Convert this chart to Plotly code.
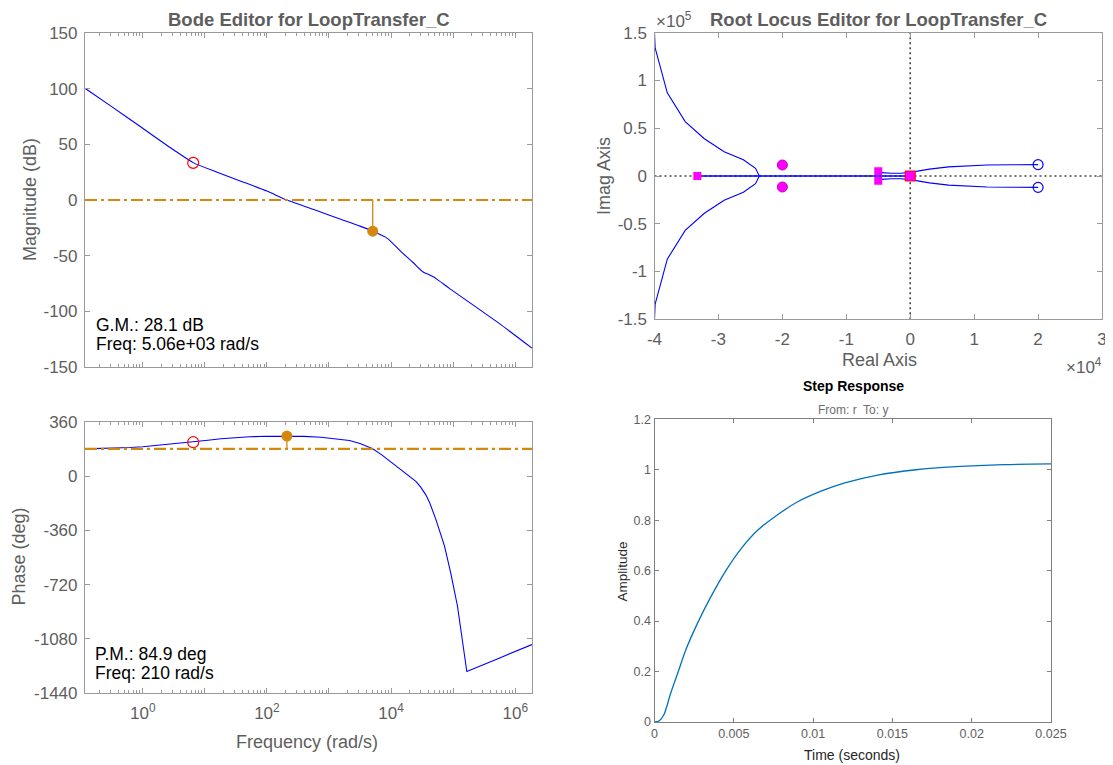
import plotly.graph_objects as go

W, H = 1113, 765
OFF = 8  # page body margin in the browser

# ---------------- data ----------------
# Bode magnitude (rad/s, dB)
mag_freq = [0.1175, 0.316, 1.0, 3.16, 6.6, 15.8, 40, 100, 210, 631, 1585, 3162,
            5060, 8700, 14450, 22400, 32400, 41700, 52500, 87000, 550000, 1.86e6]
mag_db = [100.5, 84, 64.5, 45, 33.4, 25, 16.5, 8, 0, -9.5, -17.5, -23.5,
          -28.1, -34.5, -46.5, -56, -64.5, -67.5, -70.5, -79.5, -111, -133.3]

# Bode phase (rad/s, deg)
ph_freq = [0.1175, 0.316, 0.63, 1.0, 2.14, 4.0, 6.5, 11.2, 18.2, 31.6, 52.5, 100,
           210, 400, 740, 1020, 1585, 2140, 3160, 5060, 7080, 9330, 14100, 19500,
           25100, 30200, 36300, 41700, 52500, 72400, 91200, 117500, 141000, 166000,
           550000, 1.86e6]
ph_deg = [180, 184, 189, 194, 207, 217, 224, 237, 247, 255, 260, 263.5,
          264.9, 263, 257, 251, 244, 235.5, 215, 180, 140, 102, 50, 2.5,
          -35, -75, -125, -175, -286, -463, -641, -863, -1085, -1296,
          -1207, -1117]

# compensator zero marker on Bode
cz_freq = 6.5
cz_mag = 33.4
cz_phase = 224

# margins
gm_db = 28.1
gm_freq = 5060
pm_deg = 84.9
pm_freq = 210
ph_ref = 180

mag_ticks = [150, 100, 50, 0, -50, -100, -150]
ph_ticks = [360, 0, -360, -720, -1080, -1440]
freq_decades = [1, 10, 100, 1e3, 1e4, 1e5, 1e6]
freq_labels = ["10<sup>0</sup>", "", "10<sup>2</sup>", "", "10<sup>4</sup>", "", "10<sup>6</sup>"]

# Root locus (real, imag)
rl_poles_re = [-33300, -5000, -5000, 0]
rl_poles_im = [0, 5000, -5000, 0]
rl_czeros_re = [-20000, -20000]
rl_czeros_im = [11500, -11500]
rl_pzeros_re = [20000, 20000]
rl_pzeros_im = [11900, -11900]

rl_far_re = [-23600, -24200, -26100, -29100, -32200, -35200, -38000, -39900, -40000]
rl_far_im = [0, 8000, 17000, 25500, 39000, 57000, 87000, 134000, 150000]

rl_near_re = [-5000, -4400, -3000, -1500, 0, 1500, 3000, 6000, 9000, 12000, 16000, 20000]
rl_near_im = [5000, 3500, 2900, 2900, 3800, 5500, 7200, 9600, 10900, 11500, 11800, 11900]

rl_axis_re = [-33300, 0]
rl_axis_im = [0, 0]

rl_xticks = [-40000, -30000, -20000, -10000, 0, 10000, 20000, 30000]
rl_xlabels = ["-4", "-3", "-2", "-1", "0", "1", "2", "3"]
rl_yticks = [150000, 100000, 50000, 0, -50000, -100000, -150000]
rl_ylabels = ["1.5", "1", "0.5", "0", "-0.5", "-1", "-1.5"]

# Step response
step_t = [0, 0.0003, 0.0006, 0.001, 0.0015, 0.002, 0.0027, 0.0035, 0.0045, 0.0055,
          0.0065, 0.0075, 0.009, 0.0105, 0.012, 0.014, 0.0165, 0.019, 0.022, 0.025]
step_y = [0, 0.005, 0.03, 0.11, 0.2, 0.29, 0.39, 0.49, 0.6, 0.69,
          0.76, 0.81, 0.872, 0.915, 0.948, 0.978, 1.0, 1.012, 1.02, 1.023]
step_xticks = [0, 0.005, 0.01, 0.015, 0.02, 0.025]
step_xlabels = ["0", "0.005", "0.01", "0.015", "0.02", "0.025"]
step_yticks = [0, 0.2, 0.4, 0.6, 0.8, 1.0, 1.2]
step_ylabels = ["0", "0.2", "0.4", "0.6", "0.8", "1", "1.2"]

# ---------------- styling ----------------
FONT = "Liberation Sans, Arial, sans-serif"
GRAY = "#5e5e5e"
AXC = "#9a9a9a"
BLUE = "#0000ff"
ORANGE = "#d4890e"
MAGENTA = "#ff00ff"
STEPBLUE = "#0072bd"


def fx(px):
    return (px - OFF) / W


def fy(py):
    return 1 - (py - OFF) / H


minor_vals = [k * 10 ** n for n in range(-1, 7) for k in range(2, 10)]

fig = go.Figure()

# ---- Bode magnitude ----
fig.add_trace(go.Scatter(x=mag_freq, y=mag_db, mode="lines", line_shape="spline",
                         line=dict(color=BLUE, width=1.1, smoothing=0.6), xaxis="x", yaxis="y"))
fig.add_trace(go.Scatter(x=[gm_freq, gm_freq], y=[0, -gm_db], mode="lines",
                         line=dict(color=ORANGE, width=1.3), xaxis="x", yaxis="y"))
fig.add_trace(go.Scatter(x=[gm_freq], y=[-gm_db], mode="markers",
                         marker=dict(color=ORANGE, size=11), xaxis="x", yaxis="y"))
fig.add_trace(go.Scatter(x=[cz_freq], y=[cz_mag], mode="markers",
                         marker=dict(symbol="circle-open", color="#ff0000", size=11,
                                     line=dict(width=1.2)), xaxis="x", yaxis="y"))

# ---- Bode phase ----
fig.add_trace(go.Scatter(x=ph_freq, y=ph_deg, mode="lines",
                         line=dict(color=BLUE, width=1.1), xaxis="x2", yaxis="y2"))
fig.add_trace(go.Scatter(x=[pm_freq, pm_freq], y=[ph_ref, ph_ref + pm_deg], mode="lines",
                         line=dict(color=ORANGE, width=1.3), xaxis="x2", yaxis="y2"))
fig.add_trace(go.Scatter(x=[pm_freq], y=[ph_ref + pm_deg], mode="markers",
                         marker=dict(color=ORANGE, size=11), xaxis="x2", yaxis="y2"))
fig.add_trace(go.Scatter(x=[cz_freq], y=[cz_phase], mode="markers",
                         marker=dict(symbol="circle-open", color="#ff0000", size=11,
                                     line=dict(width=1.2)), xaxis="x2", yaxis="y2"))

# ---- Root locus ----
for sgn in (1, -1):
    fig.add_trace(go.Scatter(x=rl_far_re, y=[sgn * v for v in rl_far_im], mode="lines",
                             line=dict(color=BLUE, width=1.1), xaxis="x3", yaxis="y3"))
    fig.add_trace(go.Scatter(x=rl_near_re, y=[sgn * v for v in rl_near_im], mode="lines",
                             line=dict(color=BLUE, width=1.1), xaxis="x3", yaxis="y3"))
fig.add_trace(go.Scatter(x=rl_axis_re, y=rl_axis_im, mode="lines",
                         line=dict(color=BLUE, width=1.6), xaxis="x3", yaxis="y3"))
fig.add_trace(go.Scatter(x=rl_pzeros_re, y=rl_pzeros_im, mode="markers",
                         marker=dict(symbol="circle-open", color=BLUE, size=10,
                                     line=dict(width=1.2)), xaxis="x3", yaxis="y3"))
fig.add_trace(go.Scatter(x=rl_czeros_re, y=rl_czeros_im, mode="markers",
                         marker=dict(symbol="circle", color=MAGENTA, size=10,
                                     line=dict(width=1, color="#c000c0")), xaxis="x3", yaxis="y3"))
fig.add_trace(go.Scatter(x=rl_poles_re[:3], y=rl_poles_im[:3], mode="markers",
                         marker=dict(symbol="square", color=MAGENTA, size=8), xaxis="x3", yaxis="y3"))
fig.add_trace(go.Scatter(x=rl_poles_re[3:], y=rl_poles_im[3:], mode="markers",
                         marker=dict(symbol="square", color=MAGENTA, size=10,
                                     line=dict(width=1, color="#ff0000")), xaxis="x3", yaxis="y3"))

# ---- Step response ----
fig.add_trace(go.Scatter(x=step_t, y=step_y, mode="lines", line_shape="spline",
                         line=dict(color=STEPBLUE, width=1.3, smoothing=0.8),
                         xaxis="x4", yaxis="y4"))

common = dict(showgrid=False, zeroline=False, showline=True, mirror="ticks",
              ticks="inside", tickcolor=AXC, linecolor=AXC, linewidth=1.2,
              tickfont=dict(family=FONT, size=17, color=GRAY))

logx = dict(common, type="log", range=[-0.93, 6.27], tickmode="array",
            tickvals=freq_decades, ticklen=5,
            minor=dict(tickmode="array", tickvals=minor_vals, ticks="inside",
                       ticklen=3, tickcolor=AXC))

stepax = dict(showgrid=False, zeroline=False, showline=True, mirror="ticks",
              ticks="inside", tickcolor="#808080", linecolor="#808080", linewidth=1,
              ticklen=4, tickfont=dict(family=FONT, size=12.5, color=GRAY))

fig.update_layout(
    width=W, height=H, margin=dict(l=0, r=0, t=0, b=0, autoexpand=False),
    paper_bgcolor="white", plot_bgcolor="white", showlegend=False,
    xaxis=dict(logx, domain=[fx(85), fx(532)], anchor="y", showticklabels=False,
               ticktext=freq_labels),
    yaxis=dict(common, domain=[fy(366.7), fy(33.3)], anchor="x", range=[-150, 150],
               tickmode="array", tickvals=mag_ticks, ticktext=[str(v) for v in mag_ticks],
               ticklen=5, ticklabelstandoff=3),
    xaxis2=dict(logx, domain=[fx(85), fx(532)], anchor="y2", ticktext=freq_labels,
                ticklabelstandoff=4),
    yaxis2=dict(common, domain=[fy(693.3), fy(421.7)], anchor="x2", range=[-1440, 360],
                tickmode="array", tickvals=ph_ticks, ticktext=[str(v) for v in ph_ticks],
                ticklen=5, ticklabelstandoff=3),
    xaxis3=dict(common, domain=[fx(654.5), fx(1102)], anchor="y3", range=[-40000, 30000],
                tickmode="array", tickvals=rl_xticks, ticktext=rl_xlabels, ticklen=5,
                ticklabelstandoff=4),
    yaxis3=dict(common, domain=[fy(319.3), fy(32.7)], anchor="x3", range=[-150000, 150000],
                tickmode="array", tickvals=rl_yticks, ticktext=rl_ylabels, ticklen=5,
                ticklabelstandoff=3),
    xaxis4=dict(stepax, domain=[fx(654.5), fx(1051)], anchor="y4", range=[0, 0.025],
                tickmode="array", tickvals=step_xticks, ticktext=step_xlabels),
    yaxis4=dict(stepax, domain=[fy(722), fy(419.3)], anchor="x4", range=[0, 1.2],
                tickmode="array", tickvals=step_yticks, ticktext=step_ylabels),
)

# reference lines
fig.add_shape(type="line", xref="x domain", yref="y", x0=0, x1=1, y0=0, y1=0,
              line=dict(color=ORANGE, width=2.2, dash="12px,4px,3px,4px"))
fig.add_shape(type="line", xref="x2 domain", yref="y2", x0=0, x1=1, y0=ph_ref, y1=ph_ref,
              line=dict(color=ORANGE, width=2.2, dash="12px,4px,3px,4px"))
fig.add_shape(type="line", xref="x3 domain", yref="y3", x0=0, x1=1, y0=0, y1=0,
              line=dict(color="#444444", width=1.6, dash="2px,3px"), layer="below")
fig.add_shape(type="line", xref="x3", yref="y3 domain", x0=0, x1=0, y0=0, y1=1,
              line=dict(color="#444444", width=1.6, dash="2px,3px"), layer="below")


def ann(text, px, py, size, color=GRAY, bold=False, angle=0, xanchor="center", yanchor="middle"):
    if bold:
        text = "<b>" + text + "</b>"
    fig.add_annotation(text=text, x=fx(px), y=fy(py), xref="paper", yref="paper",
                       showarrow=False, textangle=angle, xanchor=xanchor, yanchor=yanchor,
                       font=dict(family=FONT, size=size, color=color))


ann("Bode Editor for LoopTransfer_C", 308.5, 20, 18.5, bold=True)
ann("Root Locus Editor for LoopTransfer_C", 878, 19.5, 18.5, bold=True)
ann("Magnitude (dB)", 30, 200, 18, angle=-90)
ann("Phase (deg)", 18.5, 557, 18, angle=-90)
ann("Frequency (rad/s)", 307, 742, 18)
ann("Real Axis", 879, 360, 18)
ann("Imag Axis", 604, 176, 18, angle=-90)
ann("×10<sup>5</sup>", 654, 20, 17, xanchor="left")
ann("×10<sup>4</sup>", 1104, 366, 17, xanchor="right")
ann(f"G.M.: {gm_db} dB", 94, 325, 17.5, color="black", xanchor="left")
ann(f"Freq: {gm_freq / 1000:.2f}e+03 rad/s", 94, 344, 17.5, color="black", xanchor="left")
ann(f"P.M.: {pm_deg} deg", 93, 654, 17.5, color="black", xanchor="left")
ann(f"Freq: {pm_freq} rad/s", 93, 673, 17.5, color="black", xanchor="left")
ann("Step Response", 853, 386, 14, color="black", bold=True)
ann("From: r  To: y", 853, 409.5, 12, color="#6e6e6e")
ann("Amplitude", 621.5, 572, 13.5, color="#262626", angle=-90)
ann("Time (seconds)", 852, 755, 14, color="#262626")

fig.write_html("out.html")
